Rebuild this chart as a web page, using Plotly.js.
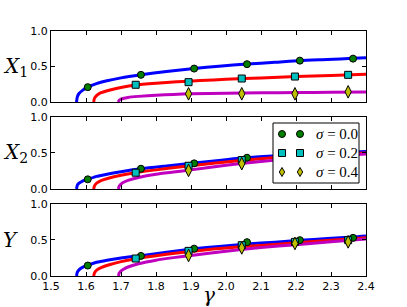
<!DOCTYPE html>
<html>
<head>
<meta charset="utf-8">
<script src="https://cdn.plot.ly/plotly-3.0.1.min.js"></script>
<style>html,body{margin:0;padding:0;background:#fff;}#chart{width:407px;height:307px;}</style>
</head>
<body>
<div id="chart"></div>
<script>
// ---- data ----
const blueGamma = [1.573, 1.575, 1.58, 1.59, 1.605, 1.63, 1.66, 1.70, 1.757, 1.83, 1.909, 1.98, 2.06, 2.14, 2.211, 2.29, 2.363, 2.4];
const blueX1 = [0, 0.07, 0.12, 0.165, 0.21, 0.26, 0.30, 0.34, 0.383, 0.43, 0.471, 0.505, 0.535, 0.56, 0.585, 0.60, 0.615, 0.625];
const blueX2 = [0, 0.05, 0.08, 0.11, 0.134, 0.175, 0.205, 0.24, 0.281, 0.32, 0.36, 0.395, 0.435, 0.46, 0.48, 0.50, 0.513, 0.52];
const blueY  = [0, 0.05, 0.085, 0.12, 0.15, 0.19, 0.22, 0.25, 0.283, 0.33, 0.378, 0.41, 0.445, 0.47, 0.495, 0.52, 0.54, 0.554];

const redGamma = [1.622, 1.624, 1.63, 1.64, 1.669, 1.70, 1.742, 1.80, 1.86, 1.926, 2.0, 2.1, 2.2, 2.3, 2.4];
const redX1 = [0, 0.05, 0.09, 0.126, 0.17, 0.205, 0.24, 0.265, 0.285, 0.303, 0.32, 0.34, 0.358, 0.375, 0.392];
const redX2 = [0, 0.04, 0.08, 0.11, 0.155, 0.19, 0.226, 0.265, 0.30, 0.335, 0.375, 0.42, 0.455, 0.48, 0.50];
const redY  = [0, 0.04, 0.08, 0.11, 0.16, 0.20, 0.24, 0.28, 0.32, 0.355, 0.39, 0.425, 0.46, 0.495, 0.53];

const magentaGamma = [1.693, 1.694, 1.698, 1.706, 1.72, 1.75, 1.80, 1.85, 1.90, 2.0, 2.1, 2.2, 2.3, 2.4];
const magentaX1 = [0, 0.02, 0.035, 0.05, 0.065, 0.08, 0.097, 0.108, 0.116, 0.125, 0.13, 0.134, 0.137, 0.14];
const magentaX2 = [0, 0.03, 0.06, 0.09, 0.12, 0.16, 0.205, 0.235, 0.265, 0.33, 0.38, 0.425, 0.455, 0.484];
const magentaY  = [0, 0.03, 0.06, 0.09, 0.125, 0.17, 0.22, 0.255, 0.285, 0.345, 0.395, 0.435, 0.475, 0.512];

const circleGamma = [1.605, 1.757, 1.909, 2.060, 2.211, 2.363];
const circleX1 = [0.21, 0.383, 0.471, 0.533, 0.583, 0.611];
const circleX2 = [0.134, 0.281, 0.355, 0.433, 0.48, 0.51];
const circleY  = [0.145, 0.279, 0.38, 0.47, 0.498, 0.53];

const squareGamma = [1.742, 1.893, 2.045, 2.197, 2.349];
const squareX1 = [0.243, 0.28, 0.331, 0.359, 0.383];
const squareX2 = [0.226, 0.322, 0.401, 0.455, 0.49];
const squareY  = [0.243, 0.349, 0.428, 0.474, 0.498];

const diamondGamma = [1.893, 2.045, 2.197, 2.349];
const diamondX1 = [0.116, 0.116, 0.116, 0.144];
const diamondX2 = [0.258, 0.35, 0.42, 0.47];
const diamondY  = [0.285, 0.39, 0.452, 0.474];

const legendLabels = ['<i>σ</i> = 0.0', '<i>σ</i> = 0.2', '<i>σ</i> = 0.4'];
const panelLabels = ['<i>X</i><sub>1</sub>', '<i>X</i><sub>2</sub>', '<i>Y</i>'];
const xLabel = '<i>γ</i>';
const xTicks = [1.5, 1.6, 1.7, 1.8, 1.9, 2.0, 2.1, 2.2, 2.3, 2.4];
const yTicks = [0.0, 0.5, 1.0];

// ---- styles ----
const markerStyles = [
  {symbol: 'circle', size: 7, color: '#007f00'},
  {symbol: 'square', size: 7, color: '#00bfbf'},
  {symbol: 'diamond-tall', size: 9, color: '#bfbf00'}
];

// ---- build traces ----
const panels = [
  {xa: 'x', ya: 'y', blue: blueX1, red: redX1, mag: magentaX1, c: circleX1, s: squareX1, d: diamondX1},
  {xa: 'x2', ya: 'y2', blue: blueX2, red: redX2, mag: magentaX2, c: circleX2, s: squareX2, d: diamondX2},
  {xa: 'x3', ya: 'y3', blue: blueY, red: redY, mag: magentaY, c: circleY, s: squareY, d: diamondY}
];
const traces = [];
panels.forEach((p) => {
  const line = (x, y, color) => ({x: x, y: y, xaxis: p.xa, yaxis: p.ya, mode: 'lines', type: 'scatter',
    line: {color: color, width: 3, shape: 'spline', smoothing: 0.6}, showlegend: false, hoverinfo: 'skip'});
  traces.push(line(blueGamma, p.blue, '#0000ff'));
  traces.push(line(redGamma, p.red, '#ff0000'));
  traces.push(line(magentaGamma, p.mag, '#bf00bf'));
});
panels.forEach((p) => {
  const mk = (x, y, st, name) => ({x: x, y: y, xaxis: p.xa, yaxis: p.ya, mode: 'markers', type: 'scatter',
    marker: {symbol: st.symbol, size: st.size, color: st.color, line: {color: '#000', width: 1}},
    name: name, showlegend: false, cliponaxis: false});
  traces.push(mk(circleGamma, p.c, markerStyles[0], legendLabels[0]));
  traces.push(mk(squareGamma, p.s, markerStyles[1], legendLabels[1]));
  traces.push(mk(diamondGamma, p.d, markerStyles[2], legendLabels[2]));
});

const xaxisBase = {range: [1.5, 2.4], tickvals: xTicks, ticks: 'inside', ticklen: 4, tickcolor: '#000',
  showline: true, linecolor: '#000', linewidth: 1, mirror: 'ticks', showgrid: false, zeroline: false,
  tickfont: {family: 'DejaVu Sans', size: 11, color: '#000'}};
const yaxisBase = {range: [0, 1], tickvals: yTicks, ticktext: ['0.0', '0.5', '1.0'], ticks: 'inside', ticklen: 4, tickcolor: '#000',
  showline: true, linecolor: '#000', linewidth: 1, mirror: 'ticks', showgrid: false, zeroline: false,
  tickfont: {family: 'DejaVu Sans', size: 11, color: '#000'}};

// ---- layout geometry ----
const W = 407, H = 307, ML = 51, MR = 41, MT = 31, MB = 31;
const PW = W - ML - MR, PH = H - MT - MB;
const px2x = (px) => (px - ML) / PW;   // paper x from pixel
const py2y = (py) => (H - MB - py) / PH; // paper y from pixel
const doms = [[0.710, 1.0], [0.355, 0.650], [0, 0.294]];

const annotations = panelLabels.map((t, i) => ({text: t, xref: 'paper', yref: 'paper', x: -0.16, xanchor: 'left',
    y: (doms[i][0] + doms[i][1]) / 2, yanchor: 'middle', showarrow: false,
    font: {family: 'DejaVu Serif', size: 20, color: '#000'}}));
annotations.push({text: xLabel, xref: 'paper', yref: 'paper', x: 0.5, xanchor: 'center', y: -0.078, yanchor: 'middle',
  showarrow: false, font: {family: 'DejaVu Serif', size: 20, color: '#000'}});

// legend drawn as a box with two swatches per entry (matplotlib style)
const shapes = [];
const legBox = {x0: 273, x1: 359, y0: 123, y1: 183};
shapes.push({type: 'rect', xref: 'paper', yref: 'paper', layer: 'above',
  x0: px2x(legBox.x0), x1: px2x(legBox.x1), y0: py2y(legBox.y1), y1: py2y(legBox.y0),
  fillcolor: '#fff', line: {color: '#000', width: 1}});
const rowY = [134, 153, 172];
const swX = [282, 300];
legendLabels.forEach((lab, i) => {
  const st = markerStyles[i];
  swX.forEach((sx) => {
    const cy = rowY[i];
    const common = {xref: 'paper', yref: 'paper', layer: 'above', fillcolor: st.color, line: {color: '#000', width: 1}};
    if (st.symbol === 'circle') {
      shapes.push(Object.assign({type: 'circle', x0: px2x(sx - 3.5), x1: px2x(sx + 3.5), y0: py2y(cy + 3.5), y1: py2y(cy - 3.5)}, common));
    } else if (st.symbol === 'square') {
      shapes.push(Object.assign({type: 'rect', x0: px2x(sx - 3.5), x1: px2x(sx + 3.5), y0: py2y(cy + 3.5), y1: py2y(cy - 3.5)}, common));
    } else {
      const p = [[sx, cy - 4.5], [sx + 2.7, cy], [sx, cy + 4.5], [sx - 2.7, cy]];
      const path = 'M' + p.map(q => px2x(q[0]) + ',' + py2y(q[1])).join('L') + 'Z';
      shapes.push(Object.assign({type: 'path', path: path}, common));
    }
  });
  annotations.push({text: lab, xref: 'paper', yref: 'paper', x: px2x(314), xanchor: 'left', y: py2y(rowY[i]), yanchor: 'middle',
    showarrow: false, font: {family: 'Liberation Serif', size: 15, color: '#000'}});
});

const layout = {
  width: W, height: H,
  margin: {l: ML, r: MR, t: MT, b: MB},
  paper_bgcolor: '#fff', plot_bgcolor: '#fff',
  xaxis:  Object.assign({}, xaxisBase, {anchor: 'y', showticklabels: false}),
  xaxis2: Object.assign({}, xaxisBase, {anchor: 'y2', showticklabels: false}),
  xaxis3: Object.assign({}, xaxisBase, {anchor: 'y3', tickformat: '.1f'}),
  yaxis:  Object.assign({}, yaxisBase, {anchor: 'x', domain: doms[0]}),
  yaxis2: Object.assign({}, yaxisBase, {anchor: 'x2', domain: doms[1]}),
  yaxis3: Object.assign({}, yaxisBase, {anchor: 'x3', domain: doms[2]}),
  showlegend: false,
  shapes: shapes,
  annotations: annotations
};

Plotly.newPlot('chart', traces, layout, {staticPlot: true, displayModeBar: false});
</script>
</body>
</html>
